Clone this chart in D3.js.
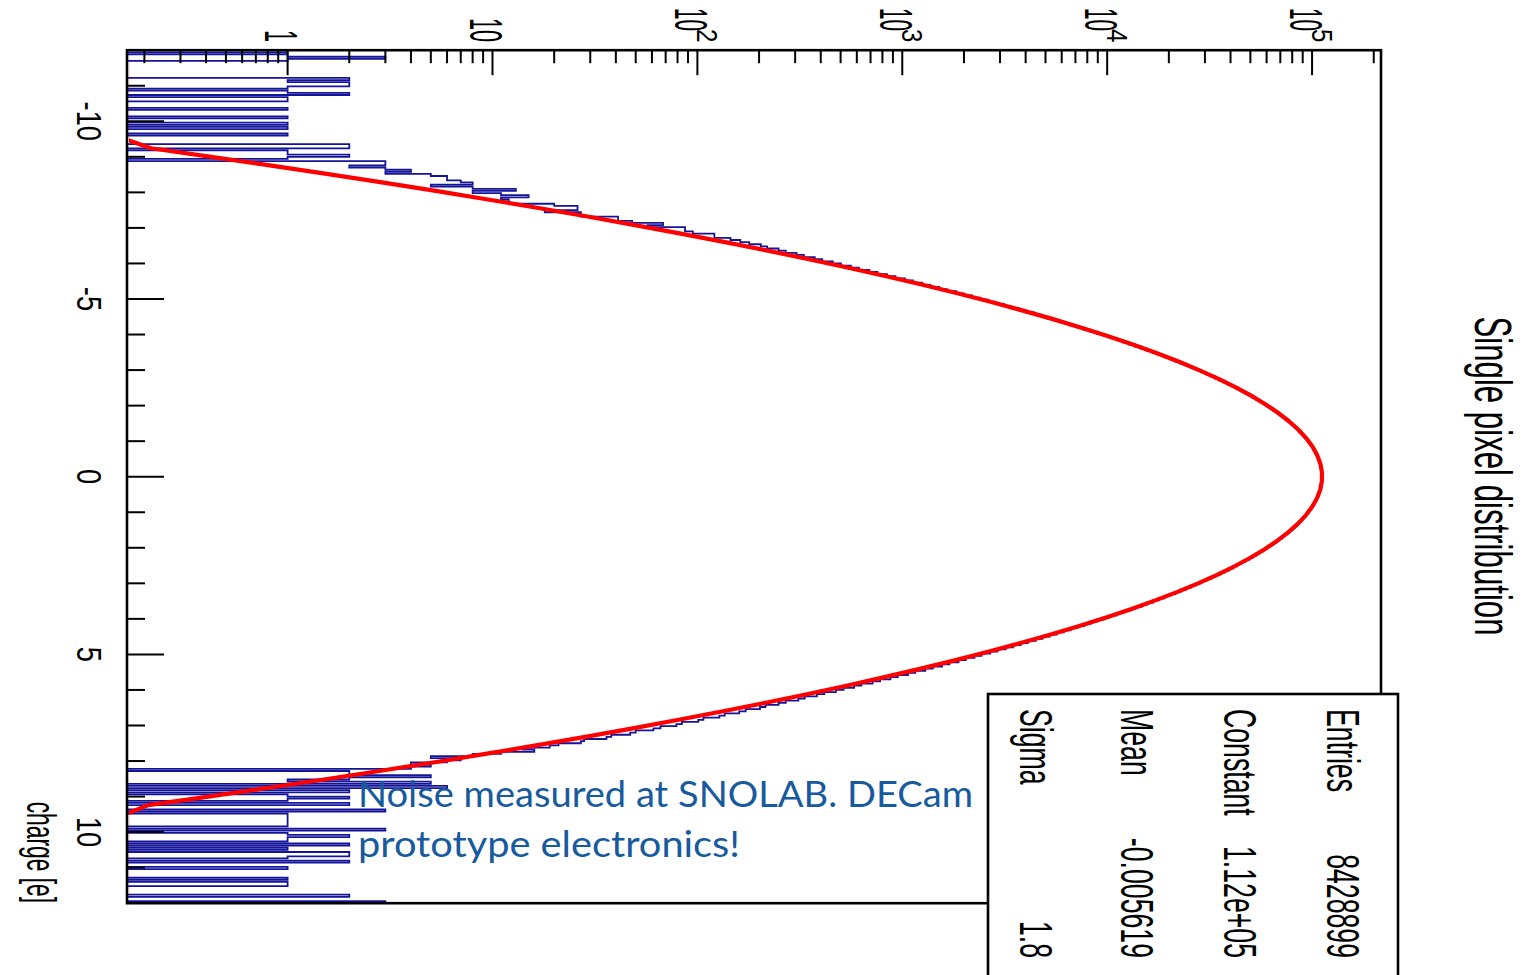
<!DOCTYPE html>
<meta charset="utf-8">
<style>
body { margin: 0; background: #fff; }
text { font-family: "Liberation Sans", Arial, sans-serif; fill: #000; }
</style>
<svg width="1532" height="975"></svg>
<script src="https://d3js.org/d3.v7.min.js"></script>
<script>

// histogram definition: 400 bins between -12 and 12 e
var chargeMin = -12, chargeMax = 12, nBins = 400;

// bin contents (bin 0 = lowest charge)
var counts = [
  1,0,1,3,1,0,0,0,0,0,
  0,0,0,2,1,2,2,1,0,1,
  2,0,1,1,0,0,0,1,0,0,
  0,1,0,0,1,0,1,0,0,1,
  0,0,0,0,2,2,0,1,1,2,
  1,0,3,3,2,3,4,3,5,6,
  6,7,8,5,8,13,8,11,15,11,
  12,12,20,26,26,18,27,27,41,41,
  48,68,57,87,87,95,121,121,145,162,
  179,204,219,249,270,305,331,374,407,458,
  502,561,614,690,757,842,926,1029,1127,1248,
  1370,1512,1651,1828,1993,2190,2391,2622,2848,3126,
  3391,3710,4016,4390,4761,5140,5562,6051,6532,7093,
  7641,8274,8898,9612,10318,11114,11905,12808,13684,14680,
  15652,16751,17830,19035,20208,21540,22815,24262,25631,27190,
  28680,30345,31940,33712,35418,37301,39110,41095,42988,45061,
  47032,49198,51240,53471,55562,57850,59990,62310,64490,66830,
  69020,71360,73530,75860,78000,80280,82370,84570,86580,88700,
  90620,92630,94420,96310,97960,99700,101160,102740,104060,105340,
  106460,107640,108460,109440,110060,110740,111160,111640,111860,112040,
  111980,111870,111650,111150,110760,110040,109460,108430,107680,106420,
  105360,104010,102780,101110,99740,97920,96340,94390,92660,90590,
  88720,86550,84590,82340,80300,77980,75880,73510,71380,69000,
  66850,64470,62330,59970,57870,55540,53490,51220,49210,47020,
  45070,42970,41110,39090,37310,35410,33710,31940,30340,28680,
  27190,25640,24250,22820,21530,20210,19030,17830,16750,15650,
  14680,13680,12810,11900,11120,10310,9620,8890,8280,7720,
  7160,6630,6140,5676,5240,4830,4476,4092,3784,3470,
  3190,2915,2688,2436,2251,2040,1880,1697,1563,1409,
  1295,1158,1066,951,876,779,716,631,582,517,
  474,416,383,334,311,270,249,215,202,172,
  160,136,128,107,101,84,79,66,61,50,
  47,38,36,28,27,21,19,14,16,11,
  8,5,7,6,4,5,4,0,2,2,
  5,2,1,5,0,6,0,2,0,1,
  2,1,0,2,0,0,3,0,1,1,
  1,1,1,1,0,3,0,1,2,1,
  1,0,2,0,1,0,2,2,1,0,
  2,0,0,1,0,0,0,0,1,0,
  1,1,0,0,0,0,2,0,0,3
];

// gaussian fit shown in the stats box
var fitConstant = 1.12e5, fitMean = -0.005619, fitSigma = 1.8;
var fitPoints = 100;

var statsLabels = ["Entries", "Constant", "Mean", "Sigma"];
var statsValues = ["8428899", "1.12e+05", "-0.005619", "1.8"];

var chargeMajor = [-10, -5, 0, 5, 10];
var decadeExponents = [0, 1, 2, 3, 4, 5];
var countRange = [0.1645, 2.17e5];

var titleText = "Single pixel distribution";
var axisTitle = "charge [e]";
var noteLines = ["Noise measured at SNOLAB. DECam", "prototype electronics!"];

var svg = d3.select("svg");

// the ROOT canvas is drawn upright and turned a quarter turn clockwise
var plot = svg.append("g").attr("transform", "translate(1532,0) rotate(90)");

var frameL = 50.2, frameR = 903.2, frameT = 151, frameB = 1405;

var x = d3.scaleLinear().domain([chargeMin, chargeMax]).range([frameL, frameR]);
var y = d3.scaleLog().domain(countRange).range([frameB, frameT]);

plot.append("clipPath").attr("id", "frame")
  .append("rect")
    .attr("x", frameL).attr("y", frameT)
    .attr("width", frameR - frameL).attr("height", frameB - frameT);

// the fit is hidden where it lies on the frame floor
plot.append("clipPath").attr("id", "fitclip")
  .append("rect")
    .attr("x", frameL).attr("y", frameT)
    .attr("width", frameR - frameL).attr("height", frameB - frameT - 2);

var inside = plot.append("g").attr("clip-path", "url(#frame)");

// histogram outline
var binWidth = (chargeMax - chargeMin) / nBins;
var yFloor = countRange[0];
var steps = [[chargeMin, yFloor]];
counts.forEach(function(c, i) {
  var lo = chargeMin + i * binWidth;
  var v = Math.max(c, yFloor);
  steps.push([lo, v], [lo + binWidth, v]);
});
steps.push([chargeMax, yFloor]);

var line = d3.line()
    .x(function(d) { return x(d[0]); })
    .y(function(d) { return y(d[1]); });

inside.append("path")
    .datum(steps)
    .attr("fill", "none")
    .attr("stroke", "#14149a")
    .attr("stroke-width", 1.8)
    .attr("d", line);

// fit curve, sampled at 100 points like ROOT does
var fitStep = (chargeMax - chargeMin) / fitPoints;
var fit = d3.range(fitPoints).map(function(j) {
  var q = chargeMin + (j + 0.5) * fitStep;
  var z = (q - fitMean) / fitSigma;
  return [q, Math.max(fitConstant * Math.exp(-0.5 * z * z), yFloor)];
});

plot.append("path")
    .datum(fit)
    .attr("clip-path", "url(#fitclip)")
    .attr("fill", "none")
    .attr("stroke", "#ff0000")
    .attr("stroke-width", 4.2)
    .attr("stroke-linejoin", "round")
    .attr("d", line);

// frame
plot.append("rect")
    .attr("x", frameL).attr("y", frameT)
    .attr("width", frameR - frameL).attr("height", frameB - frameT)
    .attr("fill", "none")
    .attr("stroke", "#000")
    .attr("stroke-width", 2.6);

// charge axis ticks
var axisG = plot.append("g").attr("stroke", "#000").attr("stroke-width", 2);
d3.range(chargeMin + 1, chargeMax).forEach(function(t) {
  var len = t % 5 === 0 ? 37 : 18;
  axisG.append("line")
      .attr("x1", x(t)).attr("x2", x(t))
      .attr("y1", frameB).attr("y2", frameB - len);
});

// count axis ticks
decadeExponents.concat([-1]).forEach(function(e) {
  d3.range(1, 10).forEach(function(m) {
    var val = m * Math.pow(10, e);
    if (val < countRange[0] || val > countRange[1]) return;
    var len = m === 1 ? 25 : 13;
    axisG.append("line")
        .attr("x1", frameL).attr("x2", frameL + len)
        .attr("y1", y(val)).attr("y2", y(val));
  });
});

function squeezed(parent, u, v, str, size, sx, anchor) {
  return parent.append("text")
      .attr("transform", "translate(" + u + "," + v + ") scale(" + sx + ",1)")
      .attr("font-size", size)
      .attr("text-anchor", anchor)
      .text(str);
}

chargeMajor.forEach(function(t) {
  squeezed(plot, x(t), 1455, String(t), 35, 0.78, "middle");
});

decadeExponents.forEach(function(e) {
  var v = y(Math.pow(10, e));
  if (e < 2) {
    squeezed(plot, 42, v + 22.5, e === 0 ? "1" : "10", 46, 0.47, "end");
  } else {
    squeezed(plot, 31, v + 22.5, "10", 46, 0.45, "end");
    squeezed(plot, 29, v + 0.5, String(e), 30, 0.8, "start");
  }
});

squeezed(plot, 476, 57, titleText, 52, 0.6, "middle");
squeezed(plot, 903, 1505, axisTitle, 40, 0.57, "end");

// stats box
plot.append("rect")
    .attr("x", 694).attr("y", 134)
    .attr("width", 330).attr("height", 410)
    .attr("fill", "#fff")
    .attr("stroke", "#000")
    .attr("stroke-width", 2.6);

var rowBase = [205, 308, 411, 512];
statsLabels.forEach(function(s, i) {
  squeezed(plot, 709, rowBase[i], s, 46, 0.58, "start");
  squeezed(plot, 958, rowBase[i], statsValues[i], 46, 0.58, "end");
});

// slide annotation, not rotated
svg.append("g")
  .selectAll("text")
  .data(noteLines)
  .enter().append("text")
    .attr("x", 358)
    .attr("y", function(d, i) { return 807 + i * 50; })
    .attr("font-size", 36)
    .attr("textLength", function(d, i) { return i === 0 ? 615 : 382; })
    .attr("lengthAdjust", "spacingAndGlyphs")
    .style("font-family", "Lato, 'Open Sans', sans-serif")
    .style("fill", "#175a9e")
    .text(function(d) { return d; });

</script>
